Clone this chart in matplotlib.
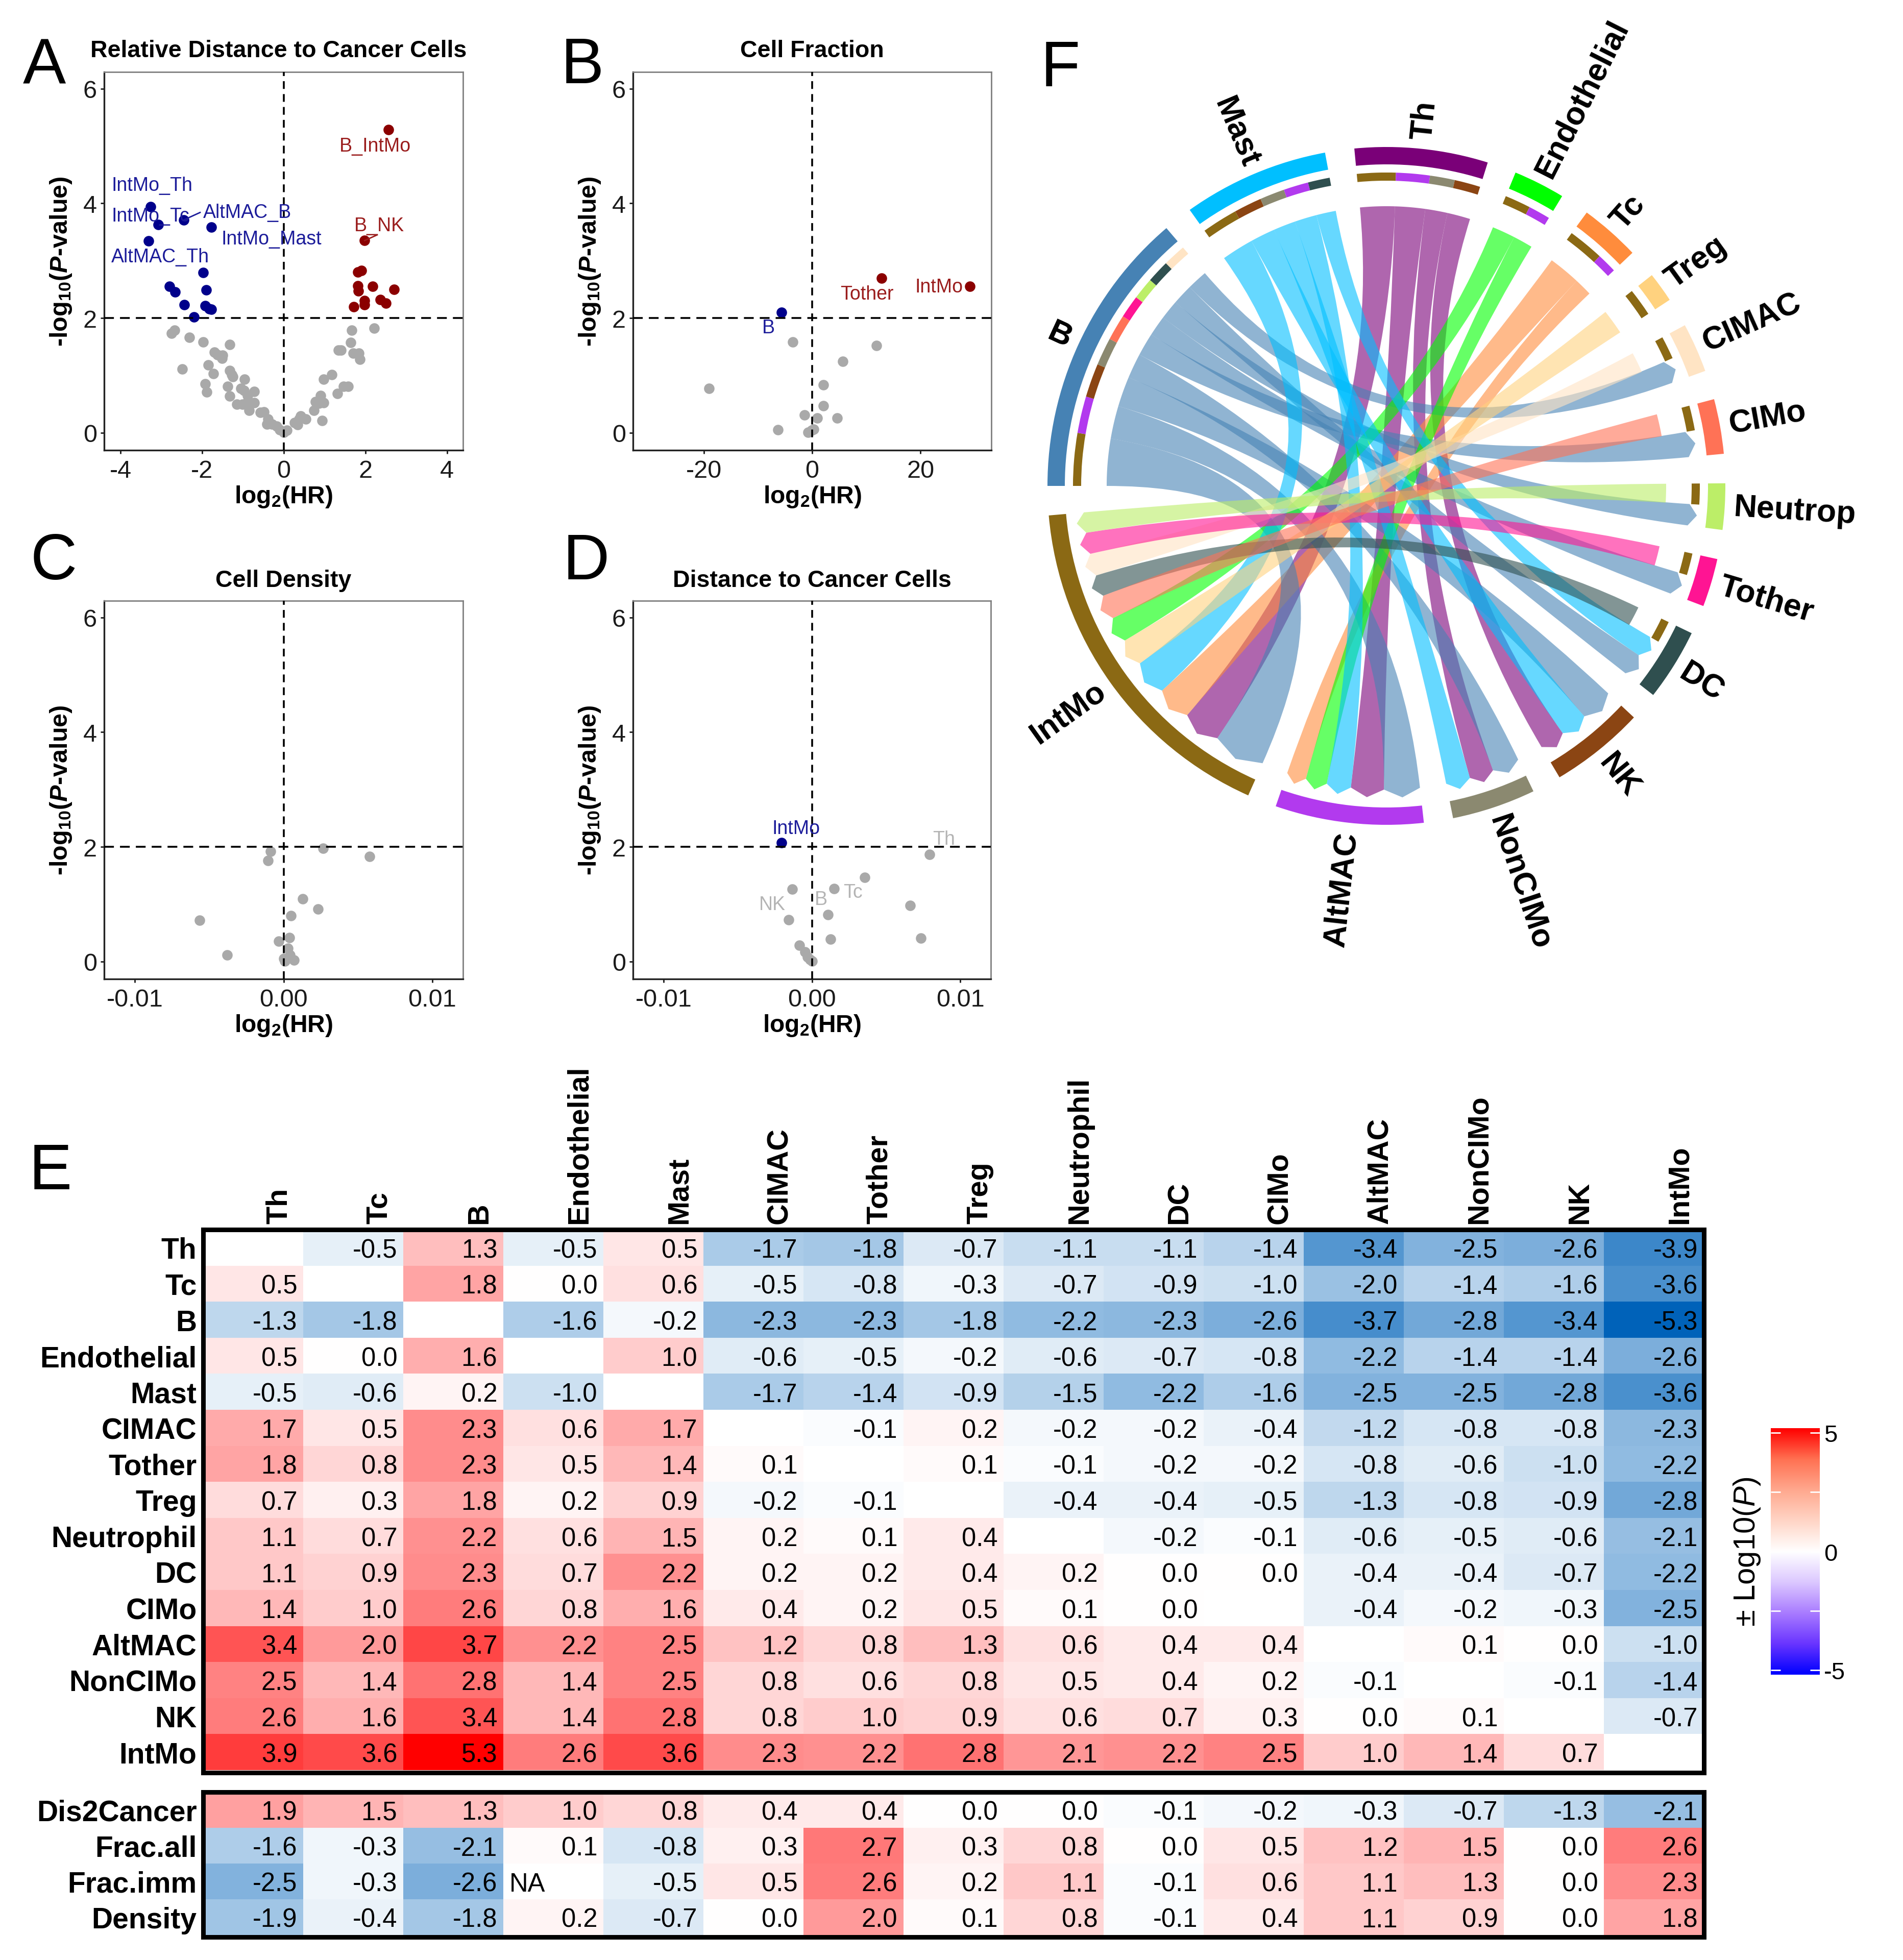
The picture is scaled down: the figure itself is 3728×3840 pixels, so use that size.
import numpy as np
import matplotlib
matplotlib.use("Agg")
import matplotlib.pyplot as plt
from matplotlib.colors import LinearSegmentedColormap
from matplotlib.patches import Wedge, PathPatch
from matplotlib.path import Path

plt.rcParams['font.family'] = ['Liberation Sans', 'DejaVu Sans']
plt.rcParams['mathtext.fontset'] = 'custom'
plt.rcParams['mathtext.rm'] = 'Liberation Sans'
plt.rcParams['mathtext.it'] = 'Liberation Sans:italic'
plt.rcParams['mathtext.bf'] = 'Liberation Sans:bold'
plt.rcParams['mathtext.bfit'] = 'Liberation Sans:italic:bold'
plt.rcParams['mathtext.default'] = 'regular'

W, H = 3728, 3841

# panel A
a_blue_x = [-3.26, -3.08, -2.45, -1.78, -3.31, -1.98, -2.80, -2.66, -1.90, -2.44, -1.93, -1.82, -1.77, -2.20]
a_blue_y = [3.94, 3.63, 3.71, 3.58, 3.34, 2.79, 2.55, 2.45, 2.49, 2.23, 2.21, 2.16, 2.15, 2.02]
a_red_x = [2.57, 1.98, 1.82, 1.90, 1.81, 1.83, 2.18, 2.70, 1.98, 1.98, 2.37, 2.50, 1.71]
a_red_y = [5.28, 3.35, 2.80, 2.83, 2.56, 2.47, 2.55, 2.50, 2.30, 2.23, 2.32, 2.26, 2.20]
a_gray_x = [-2.68, -2.75, -2.31, -1.97, -1.33, -1.70, -1.63, -1.50, -1.51, -1.85, -2.49, -1.33, -1.27, -1.72, -1.25,
            -1.92, -1.89, -0.96, -1.37, -1.05, -0.97, -0.72, -1.33, -0.89, -1.15, -1.01, -0.89, -0.73, -0.85, -0.57,
            -0.49, -0.39, -0.41, -0.29, -0.18, -0.10, 0.00, 0.08, 0.26, 0.34, 0.38, 0.54, 0.42, 0.94, 0.74, 0.78,
            0.90, 0.98, 0.86, 1.31, 0.98, 1.18, 1.46, 1.58, 1.34, 1.40, 1.64, 1.66, 2.22, 1.70, 1.84, 1.87]
a_gray_y = [1.79, 1.73, 1.66, 1.58, 1.54, 1.40, 1.36, 1.35, 1.30, 1.18, 1.11, 1.08, 1.01, 1.03, 0.98,
            0.85, 0.71, 0.93, 0.81, 0.77, 0.74, 0.72, 0.64, 0.65, 0.50, 0.50, 0.54, 0.52, 0.39, 0.35,
            0.36, 0.24, 0.15, 0.15, 0.11, 0.05, 0.01, 0.04, 0.18, 0.14, 0.24, 0.24, 0.29, 0.21, 0.39, 0.54,
            0.65, 0.52, 0.51, 0.68, 0.93, 1.01, 0.81, 0.81, 1.44, 1.44, 1.57, 1.79, 1.82, 1.39, 1.39, 1.28]

# panel B
b_blue_x, b_blue_y = [-5.7], [2.10]
b_red_x, b_red_y = [12.8, 29.1], [2.69, 2.55]
b_gray_x = [-3.55, 11.85, 5.65, -19.07, 2.05, 2.05, -1.38, 0.9, 4.63, -6.32, -0.72, 0.3, -0.12]
b_gray_y = [1.58, 1.52, 1.24, 0.77, 0.83, 0.47, 0.31, 0.26, 0.26, 0.05, 0.01, 0.06, 0.04]

# panel C
c_gray_x = [-0.00086, -0.00103, 0.00265, 0.00577, 0.00129, 0.0023, 0.0005, -0.00564, 0.0004, -0.00033, 0.00029,
            -0.00379, 0.00042, 0.00072, 0.00007, 0.0]
c_gray_y = [1.92, 1.76, 1.97, 1.83, 1.09, 0.91, 0.80, 0.72, 0.42, 0.35, 0.23, 0.11, 0.11, 0.02, 0.01, 0.05]

# panel D
d_blue_x, d_blue_y = [-0.00204], [2.07]
d_gray_x = [0.00792, 0.00357, -0.00134, 0.00151, 0.00664, 0.00107, -0.00156, 0.00125, 0.00735, -0.00086, -0.00046,
            -0.00029, -0.00011, 0.0]
d_gray_y = [1.87, 1.47, 1.26, 1.27, 0.98, 0.82, 0.73, 0.39, 0.41, 0.28, 0.17, 0.08, 0.03, 0.01]

# panel E
col_names = ['Th', 'Tc', 'B', 'Endothelial', 'Mast', 'CIMAC', 'Tother', 'Treg', 'Neutrophil', 'DC', 'CIMo',
             'AltMAC', 'NonCIMo', 'NK', 'IntMo']
row_names = col_names
n = np.nan
hr_matrix = [
    [n, -0.5, 1.3, -0.5, 0.5, -1.7, -1.8, -0.7, -1.1, -1.1, -1.4, -3.4, -2.5, -2.6, -3.9],
    [0.5, n, 1.8, 0.0, 0.6, -0.5, -0.8, -0.3, -0.7, -0.9, -1.0, -2.0, -1.4, -1.6, -3.6],
    [-1.3, -1.8, n, -1.6, -0.2, -2.3, -2.3, -1.8, -2.2, -2.3, -2.6, -3.7, -2.8, -3.4, -5.3],
    [0.5, 0.0, 1.6, n, 1.0, -0.6, -0.5, -0.2, -0.6, -0.7, -0.8, -2.2, -1.4, -1.4, -2.6],
    [-0.5, -0.6, 0.2, -1.0, n, -1.7, -1.4, -0.9, -1.5, -2.2, -1.6, -2.5, -2.5, -2.8, -3.6],
    [1.7, 0.5, 2.3, 0.6, 1.7, n, -0.1, 0.2, -0.2, -0.2, -0.4, -1.2, -0.8, -0.8, -2.3],
    [1.8, 0.8, 2.3, 0.5, 1.4, 0.1, n, 0.1, -0.1, -0.2, -0.2, -0.8, -0.6, -1.0, -2.2],
    [0.7, 0.3, 1.8, 0.2, 0.9, -0.2, -0.1, n, -0.4, -0.4, -0.5, -1.3, -0.8, -0.9, -2.8],
    [1.1, 0.7, 2.2, 0.6, 1.5, 0.2, 0.1, 0.4, n, -0.2, -0.1, -0.6, -0.5, -0.6, -2.1],
    [1.1, 0.9, 2.3, 0.7, 2.2, 0.2, 0.2, 0.4, 0.2, 0.0, 0.0, -0.4, -0.4, -0.7, -2.2],
    [1.4, 1.0, 2.6, 0.8, 1.6, 0.4, 0.2, 0.5, 0.1, 0.0, n, -0.4, -0.2, -0.3, -2.5],
    [3.4, 2.0, 3.7, 2.2, 2.5, 1.2, 0.8, 1.3, 0.6, 0.4, 0.4, n, 0.1, 0.0, -1.0],
    [2.5, 1.4, 2.8, 1.4, 2.5, 0.8, 0.6, 0.8, 0.5, 0.4, 0.2, -0.1, n, -0.1, -1.4],
    [2.6, 1.6, 3.4, 1.4, 2.8, 0.8, 1.0, 0.9, 0.6, 0.7, 0.3, 0.0, 0.1, n, -0.7],
    [3.9, 3.6, 5.3, 2.6, 3.6, 2.3, 2.2, 2.8, 2.1, 2.2, 2.5, 1.0, 1.4, 0.7, n],
]
extra_rows = ['Dis2Cancer', 'Frac.all', 'Frac.imm', 'Density']
extra_matrix = [
    [1.9, 1.5, 1.3, 1.0, 0.8, 0.4, 0.4, 0.0, 0.0, -0.1, -0.2, -0.3, -0.7, -1.3, -2.1],
    [-1.6, -0.3, -2.1, 0.1, -0.8, 0.3, 2.7, 0.3, 0.8, 0.0, 0.5, 1.2, 1.5, 0.0, 2.6],
    [-2.5, -0.3, -2.6, n, -0.5, 0.5, 2.6, 0.2, 1.1, -0.1, 0.6, 1.1, 1.3, 0.0, 2.3],
    [-1.9, -0.4, -1.8, 0.2, -0.7, 0.0, 2.0, 0.1, 0.8, -0.1, 0.4, 1.1, 0.9, 0.0, 1.8],
]

# panel F, clockwise from 180 degrees; link widths come from hr_matrix
sector_order = ['B', 'Mast', 'Th', 'Endothelial', 'Tc', 'Treg', 'CIMAC', 'CIMo', 'Neutrophil', 'Tother', 'DC', 'NK',
                'NonCIMo', 'AltMAC', 'IntMo']
sector_labels = {'Neutrophil': 'Neutrop'}
sector_colors = {'B': '#4682B4', 'Mast': '#00BFFF', 'Th': '#7A0078', 'Endothelial': '#00FF00', 'Tc': '#FF8C3C',
                 'Treg': '#FFD27F', 'CIMAC': '#FFE4C4', 'CIMo': '#FF7256', 'Neutrophil': '#BCEE68', 'Tother': '#FF1493',
                 'DC': '#2F4F4F', 'NK': '#8B4513', 'NonCIMo': '#8B8970', 'AltMAC': '#B23AEE', 'IntMo': '#8B6914'}
out_order = {
    'Th': ['IntMo', 'AltMAC', 'NonCIMo', 'NK'],
    'Tc': ['IntMo', 'AltMAC'],
    'B': ['IntMo', 'AltMAC', 'NK', 'NonCIMo', 'CIMo', 'Tother', 'Neutrophil', 'DC', 'CIMAC'],
    'Endothelial': ['IntMo', 'AltMAC'],
    'Mast': ['IntMo', 'NK', 'NonCIMo', 'AltMAC', 'DC'],
    'CIMAC': ['IntMo'], 'Tother': ['IntMo'], 'Treg': ['IntMo'], 'Neutrophil': ['IntMo'], 'DC': ['IntMo'],
    'CIMo': ['IntMo'],
}
in_order = {
    'IntMo': ['B', 'Th', 'Tc', 'Mast', 'Treg', 'Endothelial', 'CIMo', 'DC', 'CIMAC', 'Tother', 'Neutrophil'],
    'AltMAC': ['B', 'Th', 'Mast', 'Endothelial', 'Tc'],
    'NonCIMo': ['B', 'Th', 'Mast'],
    'NK': ['B', 'Mast', 'Th'],
    'DC': ['Mast', 'B'],
    'CIMAC': ['B'], 'Tother': ['B'], 'Neutrophil': ['B'], 'CIMo': ['B'],
}

GRAY = '#A9A9A9'
BLUE = '#00008B'
RED = '#8B0000'
LABEL_BLUE = '#1C1C9A'
LABEL_RED = '#9A1C1C'
LABEL_GRAY = '#B4B4B4'

fig = plt.figure(figsize=(W / 100, H / 100), dpi=100, facecolor='white')


def px_axes(left, top, right, bottom, **kw):
    return fig.add_axes([left / W, 1 - bottom / H, (right - left) / W, (bottom - top) / H], **kw)


def px_text(x, y, s, **kw):
    return fig.text(x / W, 1 - y / H, s, **kw)


def volcano(box, title, xlim, xticks, xticklabels, gray, blue=None, red=None, title_x=None):
    ax = px_axes(*box)
    ax.set_xlim(xlim)
    ax.set_ylim(-0.305, 6.29)
    ax.scatter(gray[0], gray[1], s=220, c=GRAY, linewidths=0, zorder=2)
    if blue:
        ax.scatter(blue[0], blue[1], s=220, c=BLUE, linewidths=0, zorder=3)
    if red:
        ax.scatter(red[0], red[1], s=220, c=RED, linewidths=0, zorder=3)
    ax.axvline(0, color='black', lw=2.6, dashes=(4.2, 2.8), zorder=4)
    ax.axhline(2, color='black', lw=2.6, dashes=(5.3, 3.3), zorder=4)
    ax.set_xticks(xticks)
    ax.set_xticklabels(xticklabels)
    ax.set_yticks([0, 2, 4, 6])
    ax.tick_params(labelsize=35, length=5, width=2, colors='#1a1a1a')
    ax.tick_params(axis='x', pad=8)
    ax.tick_params(axis='y', pad=5)
    for side in ['top', 'right']:
        ax.spines[side].set_color('#7f7f7f')
        ax.spines[side].set_linewidth(2)
    for side in ['left', 'bottom']:
        ax.spines[side].set_color('#222222')
        ax.spines[side].set_linewidth(2.4)
    ax.set_xlabel(r'$\mathbf{log_2(HR)}$', fontsize=34.5, labelpad=2)
    ax.set_ylabel('$\\mathbf{\u2010log_{10}(}\\mathbfit{P}\\mathbf{\u2010value)}$', fontsize=35, labelpad=14)
    px_text(title_x if title_x else (box[0] + box[2]) / 2, 112 if box[1] < 500 else 1150, title, fontsize=33.5,
            fontweight='bold', ha='center', va='baseline')
    return ax


ax_a = volcano((204, 142, 907, 883), 'Relative Distance to Cancer Cells', (-4.4, 4.39), [-4, -2, 0, 2, 4],
               ['-4', '-2', '0', '2', '4'], (a_gray_x, a_gray_y), (a_blue_x, a_blue_y), (a_red_x, a_red_y), title_x=546)
for x, y, s in [(-4.22, 4.31, 'IntMo_Th'), (-4.22, 3.78, 'IntMo_Tc'), (-1.98, 3.84, 'AltMAC_B'),
                (-1.53, 3.38, 'IntMo_Mast'), (-4.22, 3.07, 'AltMAC_Th')]:
    ax_a.text(x, y, s, fontsize=27, color=LABEL_BLUE, ha='left', va='center', zorder=5)
for x, y, s in [(1.36, 5.0, 'B_IntMo'), (1.72, 3.61, 'B_NK')]:
    ax_a.text(x, y, s, fontsize=27, color=LABEL_RED, ha='left', va='center', zorder=5)
ax_a.plot([-2.45, -2.05], [3.71, 3.84], color=LABEL_BLUE, lw=2, zorder=5)
ax_a.plot([1.98, 2.29], [3.35, 3.45], color=LABEL_RED, lw=2, zorder=5)

ax_b = volcano((1240, 142, 1942, 883), 'Cell Fraction', (-33.1, 33.1), [-20, 0, 20], ['-20', '0', '20'],
               (b_gray_x, b_gray_y), (b_blue_x, b_blue_y), (b_red_x, b_red_y))
ax_b.text(5.17, 2.42, 'Tother', fontsize=27, color=LABEL_RED, ha='left', va='center', zorder=5)
ax_b.text(19.0, 2.54, 'IntMo', fontsize=27, color=LABEL_RED, ha='left', va='center', zorder=5)
ax_b.text(-9.26, 1.83, 'B', fontsize=27, color=LABEL_BLUE, ha='left', va='center', zorder=5)

volcano((204, 1178, 907, 1919), 'Cell Density', (-0.01206, 0.01206), [-0.01, 0, 0.01], ['-0.01', '0.00', '0.01'],
        (c_gray_x, c_gray_y))

ax_d = volcano((1240, 1178, 1941, 1919), 'Distance to Cancer Cells', (-0.01206, 0.01206), [-0.01, 0, 0.01],
               ['-0.01', '0.00', '0.01'], (d_gray_x, d_gray_y), (d_blue_x, d_blue_y))
ax_d.text(-0.00107, 2.32, 'IntMo', fontsize=27, color=LABEL_BLUE, ha='center', va='center', zorder=5)
for x, y, s in [(0.00814, 2.13, 'Th'), (-0.00357, 0.99, 'NK'), (0.0002, 1.08, 'B'), (0.00213, 1.21, 'Tc')]:
    ax_d.text(x, y, s, fontsize=27, color=LABEL_GRAY, ha='left', va='center', zorder=5)

for x, y, s in [(45, 163, 'A'), (1099, 163, 'B'), (60, 1135, 'C'), (1103, 1135, 'D'), (57, 2330, 'E'), (2039, 169, 'F')]:
    px_text(x, y, s, fontsize=91, ha='left', va='baseline')

# heatmaps
heat_cmap = LinearSegmentedColormap.from_list('heat', ['#0062B9', '#FFFFFF', '#FF0000'])


def heatmap(box, matrix, labels, row_h, na_text=False):
    ax = px_axes(*box)
    arr = np.array(matrix, dtype=float)
    ax.pcolormesh(np.ma.masked_invalid(arr), cmap=heat_cmap, vmin=-5.1, vmax=5.1)
    ax.set_xlim(0, arr.shape[1])
    # rows are a little shorter than the frame, the thick border takes up the rest
    ax.set_ylim((box[3] - box[1]) / row_h, 0)
    ax.set_xticks([])
    ax.set_yticks(np.arange(arr.shape[0]) + 0.5)
    ax.set_yticklabels(labels, fontsize=41, fontweight='bold')
    ax.tick_params(axis='y', length=0, pad=9)
    for spine in ax.spines.values():
        spine.set_linewidth(6.5)
        spine.set_color('black')
    for i in range(arr.shape[0]):
        for j in range(arr.shape[1]):
            if np.isnan(arr[i, j]):
                if na_text:
                    ax.text(j + 0.06, i + 0.5, 'NA', fontsize=36.5, ha='left', va='center_baseline')
                continue
            ax.text(j + 0.94, i + 0.5, '%.1f' % arr[i, j], fontsize=36.5, ha='right', va='center_baseline')
    return ax


ax_main = heatmap((398, 2410, 3338, 3474), hr_matrix, row_names, 70.6)
heatmap((398, 3512, 3338, 3796), extra_matrix, extra_rows, 70.0, na_text=True)
for j, name in enumerate(col_names):
    ax_main.text(j + 0.76, -0.17, name, rotation=90, fontsize=41.5, fontweight='bold', ha='center', va='bottom')

# colour bar
bar_cmap = LinearSegmentedColormap.from_list(
    'bar', ['#0000FF', '#6A35FF', '#A97CFF', '#DCC8FF', '#FFFFFF', '#FFD5C6', '#FFA88E', '#FF7152', '#FF0000'])
ax_bar = px_axes(3469, 2799, 3565, 3282)
ax_bar.imshow(np.linspace(5.2, -5.2, 256).reshape(-1, 1), cmap=bar_cmap, vmin=-5.2, vmax=5.2, aspect='auto',
              extent=(0, 1, -5.2, 5.2))
ax_bar.set_xticks([])
ax_bar.set_yticks([-5, -2.5, 0, 2.5, 5])
ax_bar.set_yticklabels(['-5', '', '0', '', '5'], fontsize=34)
ax_bar.yaxis.tick_right()
ax_bar.tick_params(axis='y', which='major', left=True, right=True, direction='in', length=14, width=2, color='white',
                   pad=6)
for spine in ax_bar.spines.values():
    spine.set_visible(False)
px_text(3423, 3040, r'$\pm$ Log10($\mathit{P}$)', rotation=90, fontsize=43, ha='center', va='center')

# chord diagram
CX, CY = 2716, 953
R_OUT_TOP, R_OUT_BOT = 664, 630
R_IN_TOP, R_IN_BOT = 614, 598
R_SRC, R_SHOULDER, R_TIP = 548, 595, 611
R_LABEL = 682
GAP = 5.0
ax_f = px_axes(CX - 800, CY - 800, CX + 800, CY + 800)
ax_f.set_xlim(-800, 800)
ax_f.set_ylim(-800, 800)
ax_f.axis('off')


def link_value(a, b):
    return abs(hr_matrix[row_names.index(a)][col_names.index(b)])


sector_total = {s: sum(link_value(s, t) for t in out_order.get(s, [])) + sum(link_value(t, s) for t in in_order.get(s, []))
                for s in sector_order}
deg_per_unit = (360 - GAP * len(sector_order)) / sum(sector_total.values())

out_span = {}
in_span = {}
angle = 180.0
for s in sector_order:
    start = angle
    for t in out_order.get(s, []):
        out_span[(s, t)] = (angle, angle - link_value(s, t) * deg_per_unit)
        angle = out_span[(s, t)][1]
    for t in in_order.get(s, []):
        in_span[(t, s)] = (angle, angle - link_value(t, s) * deg_per_unit)
        angle = in_span[(t, s)][1]
    ax_f.add_patch(Wedge((0, 0), R_OUT_TOP, angle, start, width=R_OUT_TOP - R_OUT_BOT, fc=sector_colors[s], lw=0))
    for t in out_order.get(s, []):
        a1, a2 = out_span[(s, t)]
        ax_f.add_patch(Wedge((0, 0), R_IN_TOP, a2, a1, width=R_IN_TOP - R_IN_BOT, fc=sector_colors[t], lw=0))
    mid = np.radians((start + angle) / 2)
    deg = np.degrees(mid)
    right_side = -90 < deg < 90
    rot = deg if right_side else deg + 180
    ax_f.text(R_LABEL * np.cos(mid), R_LABEL * np.sin(mid), sector_labels.get(s, s), rotation=rot,
              rotation_mode='anchor', fontsize=45, fontweight='bold', ha='left' if right_side else 'right', va='center')
    angle -= GAP


def polar(r, deg):
    return r * np.cos(np.radians(deg)), r * np.sin(np.radians(deg))


for s in row_names:
    for t in out_order.get(s, []):
        a1, a2 = out_span[(s, t)]
        b1, b2 = in_span[(s, t)]
        verts = [polar(R_SRC, d) for d in np.linspace(a1, a2, 30)]
        codes = [Path.MOVETO] + [Path.LINETO] * 29
        verts += [(0, 0), polar(R_SHOULDER, b1), polar(R_TIP, (b1 + b2) / 2), polar(R_SHOULDER, b2), (0, 0),
                  polar(R_SRC, a1), polar(R_SRC, a1)]
        codes += [Path.CURVE3, Path.CURVE3, Path.LINETO, Path.LINETO, Path.CURVE3, Path.CURVE3, Path.CLOSEPOLY]
        ax_f.add_patch(PathPatch(Path(verts, codes), fc=sector_colors[s], alpha=0.6, lw=0))

fig.savefig('out.png', dpi=100)
